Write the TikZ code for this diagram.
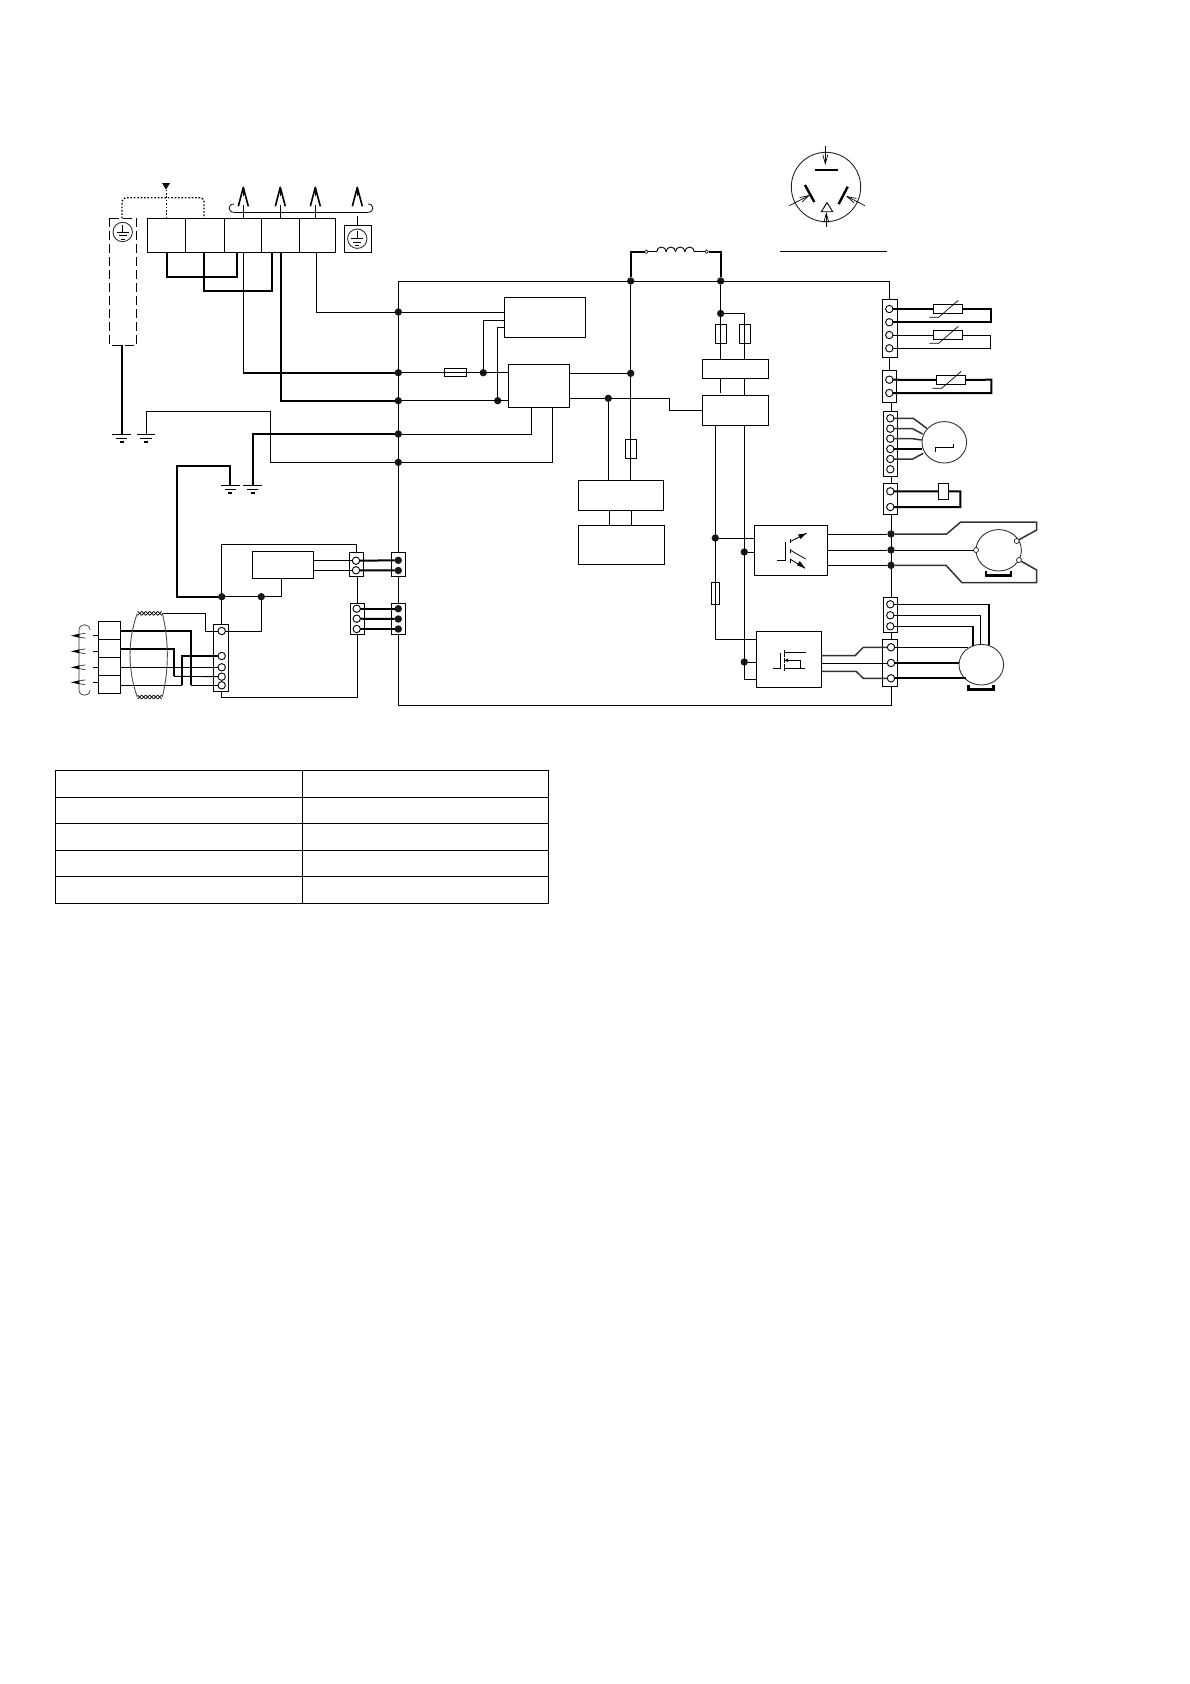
\documentclass[tikz,border=0pt]{standalone}
\usetikzlibrary{fit,shapes.geometric,arrows.meta}
\tikzset{
  blk/.style={draw,fill=white,inner sep=0pt,outer sep=0pt},
  fuse/.style={draw,inner sep=0pt,outer sep=0pt},
  term/.style={circle,draw,fill=white,minimum size=7.4pt,inner sep=0pt,outer sep=0pt},
  jdot/.style={circle,fill=black!90,minimum size=7.4pt,inner sep=0pt,outer sep=0pt},
  smallterm/.style={circle,draw,fill=white,minimum size=3.6pt,inner sep=0pt,outer sep=0pt,line width=.6pt},
  motor/.style={ellipse,draw=black!80,fill=white,inner sep=0pt,outer sep=0pt},
  thk/.style={line width=2pt},
  grw/.style={line width=1.5pt,black!80},
  gnd/.pic={
    \draw (-9.3,0) -- (9.3,0);
    \draw (-5.7,4.4) -- (5.7,4.4);
    \draw[line width=1.6pt] (-2,7.7) -- (2,7.7);
  },
  pesym/.pic={
    \draw[black!80] (0,0) circle [radius=9.7];
    \draw (0,-7.5) -- (0,0);
    \draw (-6,0) -- (6,0);
    \draw (-4,3.7) -- (4,3.7);
    \draw (-2,7) -- (2,7);
  },
  plug/.pic={
    \draw[line width=1.6pt,line join=round] (-5,19) -- (0,0) -- (5,19);
    \draw (0,0) -- (0,9);
  },
  lplug/.pic={
    \draw[line width=.7pt,black!80] (13,-2.5) -- (0,0) -- (13,2.5);
    \fill (0,0) -- (7,-2) -- (7,2) -- cycle;
  },
  twist/.pic={
    \foreach \x in {0,4,...,20}
      \draw[line width=.7pt] (\x,-2) -- (\x+4,2) (\x,2) -- (\x+4,-2);
  },
  trim/.pic={
    \draw[line width=.7pt] (-18.7,8.6) -- (-9.3,8.6) -- (10.3,-8.4);
  }
}
\begin{document}
\begin{tikzpicture}[x=1pt,y=-1pt,line width=.9pt]
\useasboundingbox (0,0) rectangle (1190,1684);
% terminal block and shield
\node[blk,fit={(147.3,218.3) (335.7,252.3)}] (tbl) {};
\foreach \x in {185.3,224.3,261.3,299.3}
  \draw (\x,218.3) -- (\x,252.3);
\foreach \n/\x in {a/167,b/204,c/237,d/243.3,e/272,f/281,g/316.3}
  \coordinate (tb\n) at (\x,252.3);
\node[blk,fit={(344.3,225.3) (371.7,252.3)}] (pebox) {};
\pic at (357.3,238.7) {pesym};
\draw[dash pattern=on 9pt off 4pt] (109.3,218.3) rectangle (136.7,345.3);
\pic at (122.7,232) {pesym};
\draw[dash pattern=on 1.6pt off 1.8pt,line width=1.4pt,rounded corners=4pt] (122,218.3) -- (122,197.7) -- (204,197.7) -- (204,218.3);
\draw[dash pattern=on 1.6pt off 1.8pt,line width=1.2pt] (166.3,218.3) -- (166.3,190);
\fill (162,183) -- (170,183) -- (166,189.5) -- cycle;
\foreach \x in {243.3,280.3,315.3,357.3}
  \pic at (\x,187.3) {plug};
\draw (233.5,212.3) -- (368.3,212.3);
\draw[line width=.8pt] (234,212.3) .. controls (227.5,212.3) and (227.5,204) .. (234,204);
\draw[line width=.8pt] (368,212.3) .. controls (374.5,212.3) and (374.5,204) .. (368,204);
\foreach \x in {243.3,280.3,315.3}
  \draw (\x,205) -- (\x,218.3);
\draw (357.3,216) -- (357.3,225.3);
% bus and grounds
\foreach \n/\y in {1/312,2/372.7,3/400.7,4/434,5/462.3}
  \node[jdot] (b\n) at (398.3,\y) {};
\coordinate (g1) at (121.7,434.3);
\coordinate (g2) at (146,434.3);
\coordinate (g3) at (230.3,485.3);
\coordinate (g4) at (252.7,485.3);
\foreach \n in {1,2,3,4}
  \pic at (g\n) {gnd};
\draw[thk] (tba) -- (167,277) -| (tbc);
\draw[thk] (tbb) -- (204,291.3) -| (tbe);
\draw (tbd) |- (b2);
\draw[thk] (tbd |- b2) -- (b2);
\draw[thk] (tbf) |- (b3);
\draw (tbg) |- (b1);
\draw[thk] (121.7,345.3) -- (g1);
\draw (g2) |- (270.3,411.7) |- (b5);
\draw[thk] (g4) |- (b4);
% main boxes
\node[blk,fit={(504.3,297.3) (585.7,337.3)}] (boxa) {};
\node[blk,fit={(508.3,364.3) (569.7,407.7)}] (boxb) {};
\node[blk,fit={(702.3,359.3) (768.7,378.3)}] (boxc) {};
\node[blk,fit={(702.3,395.3) (768.7,425.3)}] (boxd) {};
\node[blk,fit={(578.3,480.3) (663.7,510.3)}] (boxe) {};
\node[blk,fit={(578.3,525.3) (664.7,564.3)}] (boxf) {};
\node[blk,fit={(754.3,525.3) (827.7,575.7)}] (boxg) {};
\node[blk,fit={(756.3,631.3) (821.7,687.3)}] (boxh) {};
\node[blk,fit={(252.3,551.3) (313.7,578.7)}] (boxj) {};
\node[jdot] (jb) at (483.3,372.7) {};
\node[jdot] (jc) at (497.7,400.7) {};
\node[jdot] (jd) at (630.7,373.3) {};
\node[jdot] (je) at (608.3,398.3) {};
\node[jdot] (jt1) at (630.7,281) {};
\node[jdot] (jt2) at (720.7,281) {};
\node[jdot] (jf) at (720.7,313.5) {};
\node[jdot] (ju) at (715.3,538) {};
\node[jdot] (jv) at (744.3,552) {};
\node[jdot] (jw) at (744.3,662) {};
\draw (b1) -- (b1 -| boxa.west);
\draw (b2) -- (b2 -| boxb.west);
\draw (b3) -- (b3 -| boxb.west);
\node[fuse,fit={(444.3,368.3) (466.7,376.7)}] (fs0) {};
\draw (jb) |- (boxa.west |- 0,320.3);
\draw (jc) |- (boxa.west |- 0,327.3);
\draw (531.3,0 |- boxb.south) |- (b4);
\draw (552.7,0 |- boxb.south) |- (b5);
\draw (jd -| boxb.east) -- (jd);
\draw (je -| boxb.east) -- (je) -- (669.3,398.3) |- (boxd.west);
\draw (jt1) -- (jd) -- (630.7,0 |- boxe.north);
\draw (je) -- (je |- boxe.north);
\node[fuse,fit={(625.3,439.3) (636.7,458.7)}] (fs3) {};
\draw (609.3,0 |- boxe.south) -- (609.3,0 |- boxf.north);
\draw (631.3,0 |- boxe.south) -- (631.3,0 |- boxf.north);
% inductor
\node[smallterm] (ind1) at (646.3,251.7) {};
\node[smallterm] (ind2) at (706.7,251.7) {};
\draw[thk] (jt1) |- (ind1);
\draw[thk] (ind2) -| (jt2);
\draw[line width=1.2pt] (ind1) -- (656.7,251.7);
\draw[line width=1.2pt] (694.3,251.7) -- (ind2);
\foreach \x in {656.7,666.1,675.5,684.9}
  \draw (\x,251.7) arc [start angle=180,end angle=360,radius=4.7];
% rectifier side
\draw (jt2) -- (jt2 |- boxc.north);
\draw (jf) -| (744.3,0 |- boxc.north);
\node[fuse,fit={(715.3,324.3) (726.7,343.7)}] (fs1) {};
\node[fuse,fit={(739.3,324.3) (750.7,343.7)}] (fs2) {};
\draw (720.3,0 |- boxc.south) -- (720.3,393.3);
\draw (744.3,0 |- boxc.south) -- (744.3,0 |- boxd.north);
\draw (715.3,0 |- boxd.south) |- (boxh.west |- 0,639.3);
\draw (744.3,0 |- boxd.south) |- (boxh.west |- 0,679.3);
\node[fuse,fit={(711.3,582.3) (719.7,604.7)}] (fs4) {};
\draw (ju) -- (ju -| boxg.west);
\draw (jv) -- (jv -| boxg.west);
\draw (jw) -- (jw -| boxh.west);
% switch symbols
\draw (777.3,560.3) -- (785,560.3) -- (785,542);
\draw (790,539.3) -- (790,543.3) (790,549.3) -- (790,552.7) (790,559.3) -- (790,563.3);
\draw[line width=.8pt] (790,541.7) -- (806.7,533.3);
\draw[line width=.8pt] (790,550) -- (805.7,559);
\draw[line width=.8pt] (790,559) -- (805,568.3);
\fill (806,533.5) -- (798,534.5) -- (800.5,539) -- cycle;
\fill (805,568) -- (797,565.5) -- (799.7,561) -- cycle;
\draw (773.3,668.3) -- (780.7,668.3) -- (780.7,653.3);
\draw (784.3,650) -- (784.3,656.7) (784.3,657.7) -- (784.3,662.7) (784.3,664.3) -- (784.3,670.7);
\draw[line width=.8pt] (784.3,652.3) -- (805.7,652.3);
\draw[line width=.8pt] (784.3,660.3) -- (800.7,660.3) -- (800.7,668.3);
\draw[line width=.8pt] (784.3,668.3) -- (805,668.3);
\fill (784.5,660.3) -- (788,658.5) -- (788,662) -- cycle;
% connector blocks on the right
\node[blk,fit={(882.3,299.3) (897.7,357.7)}] (cn1) {};
\node[blk,fit={(882.3,370.3) (896.7,402.7)}] (cn2) {};
\node[blk,fit={(883.3,411.3) (897.7,476.7)}] (cn3) {};
\node[blk,fit={(883.3,483.3) (897.7,514.7)}] (cn4) {};
\node[blk,fit={(883.3,597.3) (897.7,632.7)}] (cn5) {};
\node[blk,fit={(882.3,639.3) (897.7,686.7)}] (cn6) {};
\foreach \n/\y in {a/309,b/322.3,c/335,d/348.3}
  \node[term] (cn1\n) at (889.3,\y) {};
\foreach \n/\y in {a/379.7,b/393}
  \node[term] (cn2\n) at (889.3,\y) {};
\foreach \n/\y in {a/418.3,b/428.7,c/438.7,d/449,e/459,f/469.3}
  \node[term] (cn3\n) at (890.3,\y) {};
\foreach \n/\y in {a/491.3,b/507}
  \node[term] (cn4\n) at (890.3,\y) {};
\foreach \n/\y in {a/604.3,b/615.3,c/626.3}
  \node[term] (cn5\n) at (890.3,\y) {};
\foreach \n/\y in {a/647.3,b/663,c/678.3}
  \node[term] (cn6\n) at (891,\y) {};
% top rail and bottom rail
\node[blk,fit={(349.3,552.7) (363.7,576.3)}] (k1) {};
\node[blk,fit={(391.3,552.7) (405.3,576.3)}] (k2) {};
\node[blk,fit={(350.3,603.7) (364.3,634.3)}] (k3) {};
\node[blk,fit={(391.3,603.7) (405.3,634.3)}] (k4) {};
\draw (k2.north) -- (398.3,281.7) -- (889.3,281.7) -- (cn1a |- cn1.north);
\draw (k2.south) -- (k4.north);
\draw (k4.south) -- (398.3,705.3) -| (891.7,0 |- cn6.south);
\draw (cn1a |- cn1.south) -- (cn1a |- cn2.north);
\draw (891.3,0 |- cn2.south) -- (891.3,0 |- cn3.north);
\draw (891.3,0 |- cn3.south) -- (891.3,0 |- cn4.north);
\draw (891.3,0 |- cn4.south) -- (891.3,0 |- cn5.north);
\draw (891.3,0 |- cn5.south) -- (891.3,0 |- cn6.north);
% sensors
\node[blk,fit={(933.3,304.5) (962.7,313.5)}] (r1) {};
\node[blk,fit={(933.3,330.5) (962.7,339.5)}] (r2) {};
\node[blk,fit={(936.3,375.5) (965.7,384.5)}] (r3) {};
\draw[thk] (cn1a) -- (r1);
\draw[thk] (r1) -- (990.7,309) |- (cn1b);
\draw (cn1c) -- (r2);
\draw (r2) -- (990.7,335) |- (cn1d);
\draw[thk] (cn2a) -- (r3);
\draw[thk] (r3) -- (991.3,379.7) |- (cn2b);
\pic at (948,308.7) {trim};
\pic at (948,334.7) {trim};
\pic at (951,379.7) {trim};
% stepping motor
\node[motor,minimum width=44.6pt,minimum height=41.4pt] (stm) at (944.3,442.3) {};
\draw[grw] (cn3a) -- (913.3,418.3) -- (926.7,428.3);
\draw[grw] (cn3b) -- (912.7,428.7) -- (922.7,434);
\draw[grw] (cn3c) -- (912.7,438.7) -- (921.7,440);
\draw[line width=1.6pt] (cn3d) -- (922.3,449);
\draw[grw] (cn3e) -- (912.7,459) -- (923.3,453.3);
\draw (935.3,451.7) -- (935.3,447.3) -- (953.7,447.3) -- (953.7,444);
% relay
\node[blk,fit={(938.3,483.7) (948.7,499.3)}] (rly) {};
\draw[thk] (cn4a) -- (rly);
\draw[thk] (rly) -- (960.3,491.3) |- (cn4b);
% fan motor
\node[jdot] (jg1) at (891,534) {};
\node[jdot] (jg2) at (891,550) {};
\node[jdot] (jg3) at (891,565.3) {};
\node[motor,minimum width=45.4pt,minimum height=41.4pt] (fan) at (998.7,550.3) {};
\node[smallterm,minimum size=5pt] (fa) at (976,550) {};
\node[smallterm,minimum size=5pt] (fb) at (1016.7,541) {};
\node[smallterm,minimum size=5pt] (fc) at (1019,560) {};
\draw (jg1 -| boxg.east) -- (jg1);
\draw (jg2 -| boxg.east) -- (jg2);
\draw (jg3 -| boxg.east) -- (jg3);
\draw[grw] (jg1) -- (946.7,534) -- (960.7,522) -- (1036.7,522) -- (1036.7,530) -- (fb);
\draw (jg2) -- (fa);
\draw[grw] (jg3) -- (946,565.3) -- (962,582.7) -- (1036.7,582.7) -- (1036.7,570) -- (fc);
\draw[line width=2.2pt] (986,570.7) -- (986,575.5) -- (1010.7,575.5) -- (1010.7,570.7);
% compressor
\node[motor,minimum width=44.6pt,minimum height=40.6pt] (cmp) at (981.3,664.7) {};
\draw (cn5a) -- (989,604.3);
\draw[thk] (989,604.3) -- (989,644.7);
\draw (cn5b) -| (980.7,644.4);
\draw (cn5c) -- (973.3,626.3);
\draw[thk] (973.3,626.3) -- (973.3,646);
\draw (cn6a) -- (968,647.3);
\draw[thk] (cn6b) -- (958.7,663);
\draw[thk] (cn6c) -- (966,678.3);
\draw[line width=2.2pt] (968.5,685) -- (968.5,689.5) -- (993.5,689.5) -- (993.5,685);
\draw[grw] (821.7,655.7) -- (855,655.7) -- (863.3,647.3) -- (cn6a);
\draw (821.7,663) -- (cn6b);
\draw[grw] (821.7,671.3) -- (856,671.3) -- (863.3,678.3) -- (cn6c);
% connector blocks on the left
\node[blk,fit={(213.3,624.3) (228.7,691.3)}] (conl) {};
\foreach \n/\y in {1/631,2/656,3/667.3,4/676.7,5/685.3}
  \node[term] (l\n) at (221.7,\y) {};
\node[jdot] (ja) at (221.7,596.7) {};
\node[jdot] (jh) at (261.3,596.7) {};
\foreach \n/\y in {a/560.7,b/570.3}
  \node[term] (k1\n) at (356,\y) {};
\foreach \n/\y in {a/560.3,b/570.5}
  \node[jdot] (k2\n) at (398.3,\y) {};
\foreach \n/\y in {a/608.7,b/618.7,c/629}
  \node[term] (k3\n) at (356.7,\y) {};
\foreach \n/\y in {a/608.7,b/619,c/629}
  \node[jdot] (k4\n) at (398.3,\y) {};
\draw[thk] (k1a) -- (k2a);
\draw[thk] (k1b) -- (k2b);
\foreach \n in {a,b,c}
  \draw[thk] (k3\n) -- (k4\n);
\draw (k1a -| boxj.east) -- (k1a);
\draw (k1b -| boxj.east) -- (k1b);
\draw[thk] (g3) |- (177,466) |- (ja);
\draw (ja) -- (ja |- conl.north);
\draw (ja) |- (356.3,544.3) -- (356.3,0 |- k1.north);
\draw (ja) -- (jh) -- (281.7,596.7) -- (281.7,0 |- boxj.south);
\draw (jh) |- (l1);
\draw (357.3,0 |- k1.south) -- (357.3,0 |- k3.north);
\draw (357.3,0 |- k3.south) |- (221.7,697.3) -- (l5 |- conl.south);
% remote side
\node[blk,fit={(98.3,621.3) (120.7,693.3)}] (conm) {};
\foreach \y in {639.3,657.3,675.3}
  \draw (98.3,\y) -- (120.7,\y);
\foreach \n/\y in {1/631,2/649,3/667.3,4/685.3}
  \coordinate (m\n) at (120.7,\y);
\draw[thk] (m1) -| (191,685.3);
\draw (191,685.3) -- (l5);
\draw[thk] (m2) -| (174,676.3);
\draw (174,676.3) -- (l4);
\draw (m3) -- (l3);
\draw (m4) -- (182,685.3);
\draw[thk] (182,685.3) |- (l2);
\draw (162.3,613.3) -- (205.3,613.3) |- (l1);
\draw[black!70] (137.3,613.3) .. controls (127.6,640) and (127.6,670) .. (137.3,697);
\draw[black!70] (162.3,613.3) .. controls (169,640) and (169,670) .. (162.3,697);
\pic at (137.7,613.3) {twist};
\pic at (137.7,697) {twist};
\foreach \y in {635.7,651.3,667.3,682.3} {
  \pic at (72.3,\y) {lplug};
  \draw (93.3,\y) -- (98.3,\y);
}
\draw[black!80,line width=.7pt] (90,630) .. controls (90,623) and (79,623) .. (79,630) -- (79,690) .. controls (79,697) and (90,697) .. (90,690);
% plug pictogram
\node[circle,draw=black!85,inner sep=0pt,outer sep=0pt,minimum size=69.4pt] (pgc) at (826,187) {};
\draw[line width=2pt] (815,170) -- (838,170);
\draw[line width=2.4pt] (805,185) -- (814.3,202);
\draw[line width=2.4pt] (847.7,186.7) -- (838.7,204);
\draw (827,202.7) -- (821.3,211.7) -- (832.7,211.7) -- cycle;
\draw[line width=.7pt,-{Straight Barb[length=9pt,width=5pt]}] (825.3,146) -- (825.3,165);
\draw[line width=.7pt,-{Straight Barb[length=9pt,width=5pt]}] (826.3,226.7) -- (826.3,212);
\draw[line width=.7pt,-{Straight Barb[length=9pt,width=5pt]}] (789.3,205.7) -- (810,195);
\draw[line width=.7pt,-{Straight Barb[length=9pt,width=5pt]}] (865,205.7) -- (846,196);
\draw (780,251.3) -- (886.7,251.3);
% table
\draw[line width=1.1pt] (55.3,770.3) rectangle (548.3,903.3);
\draw[line width=1.1pt] (302.3,770.3) -- (302.3,903.3);
\foreach \y in {797.3,823.3,850.3,876.3}
  \draw[line width=1.1pt] (55.3,\y) -- (548.3,\y);
\end{tikzpicture}
\end{document}
